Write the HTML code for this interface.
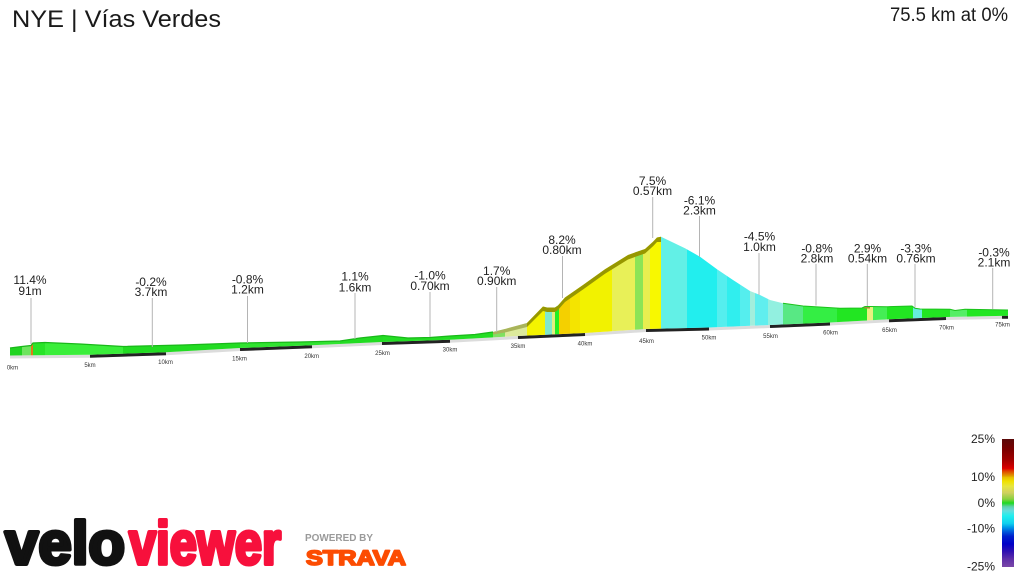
<!DOCTYPE html>
<html>
<head>
<meta charset="utf-8">
<style>
html,body{margin:0;padding:0;background:#fff}
svg{display:block}
text{font-family:"Liberation Sans",Arial,sans-serif}
</style>
</head>
<body>
<svg width="1024" height="576" viewBox="0 0 1024 576" xmlns="http://www.w3.org/2000/svg">
<defs>
<clipPath id="prof">
<polygon points="10,348 22,346.5 31,345.5 33,343 45,342.5 80,344 123,346.5 183,345 240,343 300,342 340,341 360,338 383,335.5 408,338 430,337.5 450,336 475,334.5 493,332 505,329 527,323 543,306.5 547,307.5 555,307.5 558,305.5 565,297.5 583,285 605,269.3 628,255 637,251.7 645,249 653,241.7 657,237.5 661,236.8 685,248.3 700,256.7 717,269.3 733,280 750,291 760,295 770,300 783,303.3 803,306 840,308.3 862,308 865,306.5 870,306.5 887,306.7 912,306 915,308.3 920,309 950,309.3 955,310.5 965,309.3 1008,310 1008,315.7 946,317 889,319.3 830,322.5 770,325 709,327.5 646,329 585,333 518,336 450,339.7 382,342 312,345.3 240,348 166,352.2 90,354.7 10,355.5"/>
</clipPath>
<linearGradient id="cb" x1="0" y1="0" x2="0" y2="1">
<stop offset="0" stop-color="#5a0a0a"/>
<stop offset="0.08" stop-color="#7a0000"/>
<stop offset="0.16" stop-color="#a00000"/>
<stop offset="0.2" stop-color="#c00000"/>
<stop offset="0.23" stop-color="#dd0000"/>
<stop offset="0.25" stop-color="#e04000"/>
<stop offset="0.27" stop-color="#e07000"/>
<stop offset="0.29" stop-color="#e0a000"/>
<stop offset="0.3" stop-color="#e8c000"/>
<stop offset="0.33" stop-color="#f0e000"/>
<stop offset="0.37" stop-color="#e6e640"/>
<stop offset="0.42" stop-color="#d0d060"/>
<stop offset="0.47" stop-color="#88d040"/>
<stop offset="0.5" stop-color="#20d820"/>
<stop offset="0.53" stop-color="#60d0b0"/>
<stop offset="0.56" stop-color="#66dddd"/>
<stop offset="0.6" stop-color="#22eeee"/>
<stop offset="0.66" stop-color="#10d0ee"/>
<stop offset="0.69" stop-color="#0098e8"/>
<stop offset="0.72" stop-color="#0060dd"/>
<stop offset="0.76" stop-color="#0020cc"/>
<stop offset="0.82" stop-color="#0000c8"/>
<stop offset="0.88" stop-color="#3010b0"/>
<stop offset="0.94" stop-color="#6030a8"/>
<stop offset="1" stop-color="#7a48a8"/>
</linearGradient>
</defs>

<rect width="1024" height="576" fill="#fff"/>

<!-- Title -->
<text x="12" y="27" font-size="24" fill="#1a1a1a" textLength="209" lengthAdjust="spacingAndGlyphs">NYE | Vías Verdes</text>
<text x="1008" y="21" font-size="19" fill="#1a1a1a" text-anchor="end" textLength="118" lengthAdjust="spacingAndGlyphs">75.5 km at 0%</text>

<!-- base strip -->
<polyline points="10,357 90,356.2 166,353.7 240,349.5 312,346.8 382,343.5 450,341.2 518,337.5 585,334.5 646,330.5 709,329 770,326.5 830,324 889,320.8 946,318.5 1008,317.2" fill="none" stroke="#dcdcdc" stroke-width="3"/>
<g stroke="#222" stroke-width="3" fill="none">
<line x1="90" y1="356.2" x2="166" y2="353.7"/>
<line x1="240" y1="349.5" x2="312" y2="346.8"/>
<line x1="382" y1="343.5" x2="450" y2="341.2"/>
<line x1="518" y1="337.5" x2="585" y2="334.5"/>
<line x1="646" y1="330.5" x2="709" y2="329"/>
<line x1="770" y1="326.5" x2="830" y2="324"/>
<line x1="889" y1="320.8" x2="946" y2="318.5"/>
<line x1="1002" y1="317.3" x2="1008" y2="317.2"/>
</g>

<!-- profile face -->
<g clip-path="url(#prof)">
<rect x="10" y="200" width="12" height="170" fill="#20d420"/>
<rect x="22" y="200" width="9" height="170" fill="#6ee45e"/>
<rect x="31" y="200" width="2" height="170" fill="#e07818"/>
<rect x="33" y="200" width="12" height="170" fill="#28e428"/>
<rect x="45" y="200" width="78" height="170" fill="#3aee3a"/>
<rect x="123" y="200" width="117" height="170" fill="#22dc22"/>
<rect x="240" y="200" width="100" height="170" fill="#30e430"/>
<rect x="340" y="200" width="43" height="170" fill="#22dc22"/>
<rect x="383" y="200" width="110" height="170" fill="#24de24"/>
<rect x="493" y="200" width="12" height="170" fill="#80e060"/>
<rect x="505" y="200" width="22" height="170" fill="#dcea9c"/>
<rect x="527" y="200" width="18" height="170" fill="#f4f400"/>
<rect x="545" y="200" width="7" height="170" fill="#80e8cc"/>
<rect x="552" y="200" width="3" height="170" fill="#e4ee80"/>
<rect x="555" y="200" width="4" height="170" fill="#22ee22"/>
<rect x="559" y="200" width="11" height="170" fill="#f4d000"/>
<rect x="570" y="200" width="10" height="170" fill="#f4e400"/>
<rect x="580" y="200" width="32" height="170" fill="#f2f200"/>
<rect x="612" y="200" width="23" height="170" fill="#e8f058"/>
<rect x="635" y="200" width="8" height="170" fill="#8ce456"/>
<rect x="643" y="200" width="7" height="170" fill="#e8ee50"/>
<rect x="650" y="200" width="11" height="170" fill="#f8f800"/>
<rect x="661" y="200" width="26" height="170" fill="#62f0e6"/>
<rect x="687" y="200" width="30" height="170" fill="#22eeee"/>
<rect x="717" y="200" width="10" height="170" fill="#55eeee"/>
<rect x="727" y="200" width="13" height="170" fill="#30eeee"/>
<rect x="740" y="200" width="10" height="170" fill="#55eeee"/>
<rect x="750" y="200" width="5" height="170" fill="#a2eedc"/>
<rect x="755" y="200" width="13" height="170" fill="#60eeee"/>
<rect x="768" y="200" width="15" height="170" fill="#92f0e0"/>
<rect x="783" y="200" width="20" height="170" fill="#58e884"/>
<rect x="803" y="200" width="34" height="170" fill="#34ee44"/>
<rect x="837" y="200" width="30" height="170" fill="#22e622"/>
<rect x="867" y="200" width="6" height="170" fill="#e8f080"/>
<rect x="873" y="200" width="14" height="170" fill="#44ee55"/>
<rect x="887" y="200" width="26" height="170" fill="#22e622"/>
<rect x="913" y="200" width="9" height="170" fill="#66eedd"/>
<rect x="922" y="200" width="28" height="170" fill="#22e622"/>
<rect x="950" y="200" width="17" height="170" fill="#55ee66"/>
<rect x="967" y="200" width="41" height="170" fill="#22e622"/>
</g>

<!-- top faces -->
<polyline points="10,348 22,346.5 31,345.5 33,343 45,342.5 80,344 123,346.5 183,345 240,343 300,342 340,341 360,338 383,335.5 408,338 430,337.5 450,336 475,334.5 493,332" fill="none" stroke="#19b819" stroke-width="1.3"/>
<polygon points="493,332 505,329 527,323 527,327 505,332.5 493,334.5" fill="#a9b45a"/>
<polygon points="527,323 543,306.5 547,307.5 555,307.5 558,305.5 565,297.5 583,285 605,269.3 628,255 637,251.7 645,249 653,241.7 657,237.5 661,236.8 661,242 657,242 653,246.2 645,253.5 637,256.2 628,259.5 605,273.8 583,289.5 565,302 558,310 555,312 547,312 543,311 527,327" fill="#979700"/>
<polygon points="862,308 865,306.5 870,306.5 870,308.5 865,308.5" fill="#a88a3a"/>
<polyline points="783,303.3 803,306 840,308.3 862,308 865,306.5 870,306.5 887,306.7 912,306 915,308.3 920,309 950,309.3 955,310.5 965,309.3 1008,310" fill="none" stroke="#1cc21c" stroke-width="1"/>

<!-- km labels -->
<g font-size="6" fill="#333" text-anchor="middle">
<text x="12.5" y="369.5">0km</text>
<text x="90" y="367">5km</text>
<text x="165.5" y="364">10km</text>
<text x="239.5" y="360.5">15km</text>
<text x="311.7" y="358">20km</text>
<text x="382.5" y="355">25km</text>
<text x="450" y="351.5">30km</text>
<text x="518" y="348">35km</text>
<text x="585" y="345.5">40km</text>
<text x="646.5" y="343">45km</text>
<text x="709" y="339.5">50km</text>
<text x="770.5" y="338">55km</text>
<text x="830.5" y="334.5">60km</text>
<text x="889.5" y="332">65km</text>
<text x="946.5" y="329.5">70km</text>
<text x="1002.5" y="326.5">75km</text>
</g>

<!-- leader lines -->
<g stroke="#b4b4b4" stroke-width="1">
<line x1="31" y1="298" x2="31" y2="344"/>
<line x1="152.3" y1="298" x2="152.3" y2="347"/>
<line x1="247.5" y1="296" x2="247.5" y2="343"/>
<line x1="355" y1="293" x2="355" y2="339"/>
<line x1="430" y1="292" x2="430" y2="337"/>
<line x1="496.7" y1="287" x2="496.7" y2="332"/>
<line x1="562.5" y1="256" x2="562.5" y2="298"/>
<line x1="652.7" y1="197" x2="652.7" y2="238"/>
<line x1="699.5" y1="216" x2="699.5" y2="257"/>
<line x1="759" y1="253" x2="759" y2="295"/>
<line x1="816" y1="264" x2="816" y2="305.5"/>
<line x1="867.3" y1="264" x2="867.3" y2="306"/>
<line x1="915" y1="264" x2="915" y2="307.5"/>
<line x1="992.7" y1="268" x2="992.7" y2="309"/>
</g>

<!-- labels -->
<g font-size="12" fill="#222" text-anchor="middle">
<text x="30" y="284">11.4%</text><text x="30" y="295">91m</text>
<text x="151" y="286">-0.2%</text><text x="151" y="296">3.7km</text>
<text x="247.5" y="283.5">-0.8%</text><text x="247.5" y="293.5">1.2km</text>
<text x="355" y="280.7">1.1%</text><text x="355" y="291.5">1.6km</text>
<text x="430" y="279.3">-1.0%</text><text x="430" y="290">0.70km</text>
<text x="496.7" y="275">1.7%</text><text x="496.7" y="285">0.90km</text>
<text x="562" y="244">8.2%</text><text x="562" y="254">0.80km</text>
<text x="652.5" y="185">7.5%</text><text x="652.5" y="195">0.57km</text>
<text x="699.5" y="204.3">-6.1%</text><text x="699.5" y="214.3">2.3km</text>
<text x="759.5" y="240.7">-4.5%</text><text x="759.5" y="251">1.0km</text>
<text x="817" y="252.3">-0.8%</text><text x="817" y="262.7">2.8km</text>
<text x="867.5" y="252.3">2.9%</text><text x="867.5" y="262.7">0.54km</text>
<text x="916" y="252.3">-3.3%</text><text x="916" y="262.7">0.76km</text>
<text x="994" y="256.7">-0.3%</text><text x="994" y="266.7">2.1km</text>
</g>

<!-- colour bar -->
<rect x="1002" y="439" width="12" height="128" fill="url(#cb)"/>
<g font-size="12" fill="#222" text-anchor="end">
<text x="995" y="443">25%</text>
<text x="995" y="481">10%</text>
<text x="995" y="507">0%</text>
<text x="995" y="532.5">-10%</text>
<text x="995" y="570.5">-25%</text>
</g>

<!-- logos -->
<text x="5" y="564" font-size="60" font-weight="bold" fill="#111" stroke="#111" stroke-width="4" stroke-linejoin="round" textLength="120" lengthAdjust="spacingAndGlyphs">velo</text>
<text x="129" y="564" font-size="60" font-weight="bold" fill="#f7103c" stroke="#f7103c" stroke-width="4" stroke-linejoin="round" textLength="152" lengthAdjust="spacingAndGlyphs">viewer</text>
<text x="305" y="541" font-size="10" font-weight="bold" fill="#9a9a9a" textLength="68" lengthAdjust="spacingAndGlyphs">POWERED BY</text>
<text x="306" y="565" font-size="21" font-weight="bold" fill="#fc4c02" stroke="#fc4c02" stroke-width="1.8" stroke-linejoin="round" textLength="100" lengthAdjust="spacingAndGlyphs">STRAVA</text>
</svg>
</body>
</html>
